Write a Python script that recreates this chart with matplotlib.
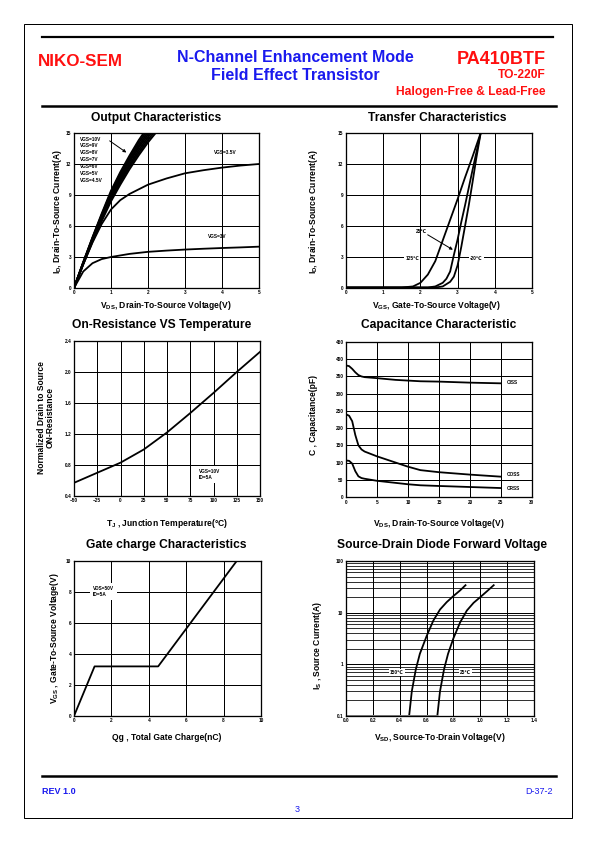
import matplotlib
matplotlib.use("Agg")
import matplotlib.pyplot as plt
from matplotlib.lines import Line2D
from matplotlib.patches import Rectangle
import numpy as np

plt.rcParams['font.family'] = ['Liberation Sans', 'DejaVu Sans']
plt.rcParams['font.weight'] = 'bold'
plt.rcParams['mathtext.default'] = 'regular'

W, H = 595, 842
RED = '#ff1010'
BLUE = '#1a1aee'

# ---------------- data ----------------
# Output characteristics
out_vds_bundle = [0, 0.25, 0.5, 0.75, 1.0, 1.25, 1.5, 1.75, 2.0, 2.25, 2.5]
out_bundle = {
    '10V': [0, 2.5, 4.9, 7.2, 9.4, 11.2, 12.8, 14.3, 15.6, 16.8, 17.9],
    '9V': [0, 2.45, 4.85, 7.1, 9.25, 11.0, 12.6, 14.05, 15.35, 16.5, 17.6],
    '8V': [0, 2.45, 4.8, 7.0, 9.1, 10.85, 12.4, 13.8, 15.1, 16.25, 17.3],
    '7V': [0, 2.4, 4.75, 6.9, 8.95, 10.65, 12.2, 13.6, 14.85, 16.0, 17.0],
    '6V': [0, 2.4, 4.65, 6.8, 8.8, 10.45, 11.95, 13.35, 14.6, 15.7, 16.7],
    '5V': [0, 2.35, 4.6, 6.65, 8.6, 10.25, 11.75, 13.1, 14.35, 15.45, 16.4],
    '4.5V': [0, 2.3, 4.5, 6.5, 8.4, 10.0, 11.5, 12.85, 14.1, 15.2, 16.1],
}
out_vds_35 = [0, 0.25, 0.5, 0.75, 1.0, 1.25, 1.5, 2.0, 2.5, 3.0, 3.5, 4.0, 4.5, 5.0]
out_id_35 = [0, 2.3, 4.4, 6.2, 7.6, 8.5, 9.1, 10.0, 10.6, 11.1, 11.4, 11.65, 11.85, 12.0]
out_vds_3 = [0, 0.25, 0.5, 0.75, 1.0, 1.5, 2.0, 2.5, 3.0, 3.5, 4.0, 4.5, 5.0]
out_id_3 = [0, 1.6, 2.4, 2.8, 3.0, 3.3, 3.5, 3.62, 3.72, 3.8, 3.87, 3.93, 4.0]
out_labels = ['VGS=10V', 'VGS=9V', 'VGS=8V', 'VGS=7V', 'VGS=6V', 'VGS=5V', 'VGS=4.5V']

# Transfer characteristics
tr_vgs_125 = [0, 1.5, 1.8, 2.0, 2.2, 2.4, 2.6, 2.8, 3.0, 3.2, 3.4, 3.62]
tr_id_125 = [0.05, 0.05, 0.15, 0.5, 1.3, 2.6, 4.6, 6.6, 8.6, 10.7, 12.7, 15.0]
tr_vgs_25 = [0, 2.2, 2.4, 2.6, 2.7, 2.8, 2.9, 3.0, 3.1, 3.2, 3.4, 3.62]
tr_id_25 = [0.05, 0.05, 0.15, 0.5, 0.9, 1.6, 3.2, 4.7, 6.4, 8.0, 11.4, 15.0]
tr_vgs_m20 = [0, 2.4, 2.6, 2.8, 2.9, 3.0, 3.1, 3.2, 3.3, 3.4, 3.5, 3.62]
tr_id_m20 = [0.05, 0.05, 0.15, 0.6, 1.1, 2.2, 4.0, 6.0, 8.0, 10.2, 12.5, 15.0]

# On-resistance vs temperature
tj = [-50, -25, 0, 25, 50, 75, 100, 125, 150]
rds_norm = [0.57, 0.70, 0.83, 1.0, 1.22, 1.47, 1.73, 2.0, 2.26]

# Capacitance
cap_vds = [0, 0.5, 1, 1.5, 2, 2.5, 3, 5, 8, 10, 12, 15, 20, 25]
ciss = [382, 380, 372, 362, 354, 350, 348, 345, 340, 338, 336, 335, 332, 330]
coss = [240, 236, 220, 180, 150, 138, 132, 118, 100, 88, 78, 72, 65, 59]
crss = [106, 105, 97, 75, 60, 55, 53, 47, 41, 37, 34, 32, 29, 26]

# Gate charge
qg = [0, 1.1, 4.5, 8.7]
vgs_qg = [0, 3.2, 3.2, 10]

# Source-drain diode
sd_v_150 = [0, 0.47, 0.49, 0.52, 0.55, 0.6, 0.65, 0.7, 0.75, 0.8, 0.85, 0.89]
sd_i_150 = [0.1, 0.1, 0.3, 0.8, 1.6, 3.5, 7, 11.5, 16, 21, 27, 34]
sd_v_25 = [0, 0.68, 0.7, 0.73, 0.76, 0.8, 0.85, 0.9, 0.95, 1.0, 1.05, 1.1]
sd_i_25 = [0.1, 0.1, 0.3, 0.8, 1.6, 3.2, 6.5, 11, 15.5, 20, 26, 34]

# ---------------- figure ----------------
fig = plt.figure(figsize=(W / 72, H / 72), dpi=72)


def fx(x):
    return x / W


def fy(y):
    return 1 - y / H


def add_ax(l, t, r, b):
    ax = fig.add_axes([fx(l), fy(b), (r - l) / W, (b - t) / H])
    for s in ax.spines.values():
        s.set_linewidth(1.3)
        s.set_color('black')
    ax.tick_params(length=0, labelsize=4.8, pad=2.5)
    ax.grid(True, color='black', linewidth=1.0)
    ax.set_axisbelow(True)
    return ax


def ftext(x, y, s, **kw):
    kw.setdefault('ha', 'center')
    kw.setdefault('va', 'center')
    kw.setdefault('fontweight', 'bold')
    fig.text(fx(x), fy(y), s, **kw)


def fline(x0, x1, y, lw):
    fig.add_artist(Line2D([fx(x0), fx(x1)], [fy(y), fy(y)], color='black', linewidth=lw,
                          transform=fig.transFigure))


# page border
fig.add_artist(Rectangle((fx(24), fy(818)), (572 - 24) / W, (818 - 24) / H, fill=False,
                         edgecolor='black', linewidth=1.0, transform=fig.transFigure))
fline(42, 553, 37, 2.2)
fline(42, 556, 106, 2.5)
fline(42, 556, 776, 2.5)

# header
ftext(38, 62, 'NIKO-SEM', ha='left', fontsize=17, color=RED)
ftext(295, 57, 'N-Channel Enhancement Mode', fontsize=16, color=BLUE)
ftext(295, 76, 'Field Effect Transistor', fontsize=16, color=BLUE)
ftext(546, 59, 'PA410BTF', ha='right', fontsize=18, color=RED)
ftext(546, 75, 'TO-220F', ha='right', fontsize=12, color=RED)
ftext(546, 92, 'Halogen-Free & Lead-Free', ha='right', fontsize=12, color=RED)

# footer
ftext(42, 791, 'REV 1.0', ha='left', fontsize=9, color=BLUE)
ftext(553, 791, 'D-37-2', ha='right', fontsize=9, color=BLUE, fontweight='normal')
ftext(297, 810, '3', fontsize=9, color=BLUE, fontweight='normal')

LW = 1.8
TXT = dict(fontsize=4.8, fontweight='bold')
WBOX = dict(facecolor='white', edgecolor='none', pad=1.2)

# ---- Output Characteristics ----
ax = add_ax(74, 133, 259, 288)
for k, v in out_bundle.items():
    ax.plot(out_vds_bundle, v, color='black', linewidth=2.0)
ax.plot(out_vds_35, out_id_35, color='black', linewidth=LW)
ax.plot(out_vds_3, out_id_3, color='black', linewidth=LW)
ax.set_xlim(0, 5)
ax.set_ylim(0, 15)
ax.set_xticks(range(0, 6))
ax.set_yticks(range(0, 16, 3))
ys = [14.4, 13.75, 13.1, 12.45, 11.8, 11.1, 10.4]
for lab, yv in zip(out_labels, ys):
    ax.text(0.17, yv, lab, ha='left', va='center', **TXT)
ax.annotate('', xy=(1.46, 13.0), xytext=(0.92, 14.35),
            arrowprops=dict(arrowstyle='-|>', color='black', lw=1.0, mutation_scale=6))
ax.text(4.1, 13.1, 'VGS=3.5V', ha='center', va='center', **TXT)
ax.text(3.87, 5.0, 'VGS=3V', ha='center', va='center', **TXT)
ftext(156, 118, 'Output Characteristics', fontsize=12)
ftext(166, 305, 'V$_{DS}$, Drain-To-Source Voltage(V)', fontsize=8.5)
ftext(57, 212, 'I$_D$, Drain-To-Source Current(A)', fontsize=8.5, rotation=90)

# ---- Transfer Characteristics ----
ax = add_ax(346, 133, 532, 288)
ax.plot(tr_vgs_125, tr_id_125, color='black', linewidth=LW)
ax.plot(tr_vgs_25, tr_id_25, color='black', linewidth=LW)
ax.plot(tr_vgs_m20, tr_id_m20, color='black', linewidth=LW)
ax.set_xlim(0, 5)
ax.set_ylim(0, 15)
ax.set_xticks(range(0, 6))
ax.set_yticks(range(0, 16, 3))
ax.text(1.78, 2.86, '125℃', ha='center', va='center', bbox=WBOX, **TXT)
ax.text(3.5, 2.86, '-20℃', ha='center', va='center', bbox=WBOX, **TXT)
ax.text(2.03, 5.5, '25℃', ha='center', va='center', **TXT)
ax.annotate('', xy=(2.92, 3.6), xytext=(2.15, 5.25),
            arrowprops=dict(arrowstyle='-|>', color='black', lw=1.0, mutation_scale=6))
ftext(437, 118, 'Transfer Characteristics', fontsize=12)
ftext(437, 305, 'V$_{GS}$, Gate-To-Source Voltage(V)', fontsize=8.5)
ftext(314, 212, 'I$_D$, Drain-To-Source Current(A)', fontsize=8.5, rotation=90)

# ---- On-Resistance ----
ax = add_ax(74, 341, 260, 496)
ax.plot(tj, rds_norm, color='black', linewidth=LW)
ax.set_xlim(-50, 150)
ax.set_ylim(0.4, 2.4)
ax.set_xticks(range(-50, 151, 25))
ax.set_yticks([0.4, 0.8, 1.2, 1.6, 2.0, 2.4])
ax.set_yticklabels(['0.4', '0.8', '1.2', '1.6', '2.0', '2.4'])
ax.text(84, 0.68, 'VGS=10V\nID=5A', ha='left', va='center', linespacing=1.3,
        bbox=dict(facecolor='white', edgecolor='none', pad=3), **TXT)
ftext(162, 325, 'On-Resistance VS Temperature', fontsize=12)
ftext(167, 523, 'T$_J$ , Junction Temperature(°C)', fontsize=8.5)
ftext(46, 418, 'Normalized Drain to Source\nON-Resistance', fontsize=8.5, rotation=90,
      linespacing=1.0)

# ---- Capacitance ----
ax = add_ax(346, 342, 532, 497)
ax.plot(cap_vds, ciss, color='black', linewidth=LW)
ax.plot(cap_vds, coss, color='black', linewidth=LW)
ax.plot(cap_vds, crss, color='black', linewidth=LW)
ax.set_xlim(0, 30)
ax.set_ylim(0, 450)
ax.set_xticks(range(0, 31, 5))
ax.set_yticks(range(0, 451, 50))
ax.text(26.0, 332, 'CISS', ha='left', va='center', **TXT)
ax.text(26.0, 65, 'COSS', ha='left', va='center', bbox=WBOX, **TXT)
ax.text(26.0, 26, 'CRSS', ha='left', va='center', bbox=WBOX, **TXT)
ftext(439, 325, 'Capacitance Characteristic', fontsize=12)
ftext(439, 523, 'V$_{DS}$, Drain-To-Source Voltage(V)', fontsize=8.5)
ftext(314, 415, 'C , Capacitance(pF)', fontsize=8.5, rotation=90)

# ---- Gate charge ----
ax = add_ax(74, 561, 261, 716)
ax.plot(qg, vgs_qg, color='black', linewidth=LW)
ax.set_xlim(0, 10)
ax.set_ylim(0, 10)
ax.set_xticks(range(0, 11, 2))
ax.set_yticks(range(0, 11, 2))
ax.text(1.0, 8.05, 'VDS=50V\nID=5A', ha='left', va='center', linespacing=1.3,
        bbox=dict(facecolor='white', edgecolor='none', pad=3), **TXT)
ftext(166, 545, 'Gate charge Characteristics', fontsize=12)
ftext(167, 737, 'Qg , Total Gate Charge(nC)', fontsize=8.5)
ftext(55, 638, 'V$_{GS}$ , Gate-To-Source Voltage(V)', fontsize=8.5, rotation=90)

# ---- Source-Drain Diode ----
ax = add_ax(346, 561, 534, 716)
ax.set_yscale('log')
ax.plot(sd_v_150, sd_i_150, color='black', linewidth=LW)
ax.plot(sd_v_25, sd_i_25, color='black', linewidth=LW)
ax.plot(sd_v_25[:2], [0.102, 0.102], color='#888888', linewidth=2.0)
ax.set_xlim(0, 1.4)
ax.set_ylim(0.1, 100)
ax.set_xticks(np.arange(0, 1.41, 0.2))
ax.set_xticklabels(['0.0', '0.2', '0.4', '0.6', '0.8', '1.0', '1.2', '1.4'])
ax.set_yticks([0.1, 1, 10, 100])
ax.set_yticklabels(['0.1', '1', '10', '100'])
ax.set_yticks([m * d for d in (0.1, 1, 10) for m in range(2, 10)], minor=True)
ax.tick_params(which='minor', length=0)
ax.grid(True, which='minor', axis='y', color='black', linewidth=0.8)
ax.grid(True, which='major', color='black', linewidth=1.0)
ax.text(0.38, 0.7, '150℃', ha='center', va='center', bbox=WBOX, **TXT)
ax.text(0.89, 0.7, '25℃', ha='center', va='center', bbox=WBOX, **TXT)
ftext(442, 545, 'Source-Drain Diode Forward Voltage', fontsize=12)
ftext(440, 737, 'V$_{SD}$, Source-To-Drain Voltage(V)', fontsize=8.5)
ftext(318, 645, 'I$_S$ , Source Current(A)', fontsize=8.5, rotation=90)

for a in fig.axes:
    for lab in a.get_xticklabels() + a.get_yticklabels():
        lab.set_fontweight('bold')

fig.savefig('out.png', dpi=72)
